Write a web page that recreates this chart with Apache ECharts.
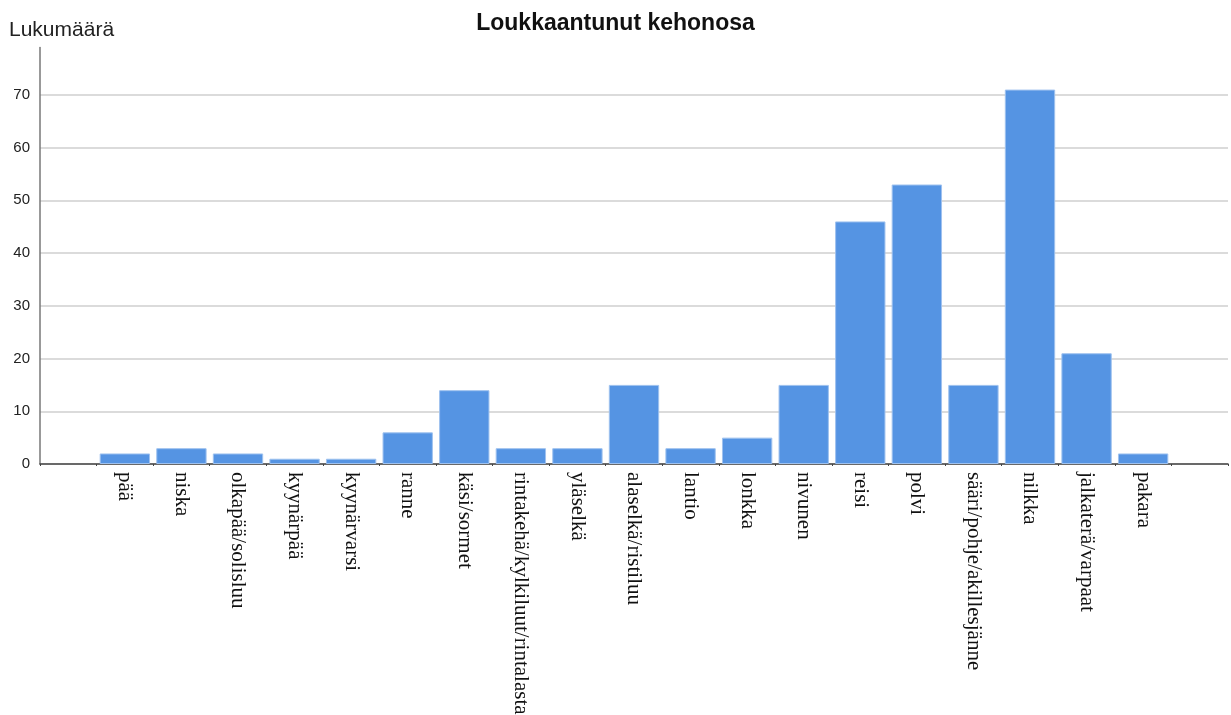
<!DOCTYPE html>
<html><head><meta charset="utf-8">
<script src="https://cdn.jsdelivr.net/npm/echarts@6/dist/echarts.min.js"></script>
<style>html,body{margin:0;padding:0;background:#fff}#c{width:1231px;height:715px}</style>
</head><body><div id="c"></div>
<script>
const categories = ['pää','niska','olkapää/solisluu','kyynärpää','kyynärvarsi','ranne','käsi/sormet','rintakehä/kylkiluut/rintalasta','yläselkä','alaselkä/ristiluu','lantio','lonkka','nivunen','reisi','polvi','sääri/pohje/akillesjänne','nilkka','jalkaterä/varpaat','pakara'];
const counts = [2,3,2,1,1,6,14,3,3,15,3,5,15,46,53,15,71,21,2];
const yTicks = [0,10,20,30,40,50,60,70];

// pad with an empty slot at each end (the reference leaves one band free on both sides)
const axisCats = [''].concat(categories, ['']);
const axisData = [null].concat(counts, [null]);

const chart = echarts.init(document.getElementById('c'));
chart.setOption({
  animation:false,
  title:{text:'Loukkaantunut kehonosa',left:'center',top:7,
    textStyle:{fontFamily:'Liberation Sans, Arial',fontSize:23,fontWeight:'bold',color:'#111'}},
  grid:{left:40,right:3,top:47.4,bottom:251,containLabel:false,outerBoundsMode:'none'},
  xAxis:{type:'category',data:axisCats,
    axisLine:{lineStyle:{color:'#444',width:1.5}},
    axisTick:{show:true,length:2,lineStyle:{color:'#444'}},
    axisLabel:{rotate:-90,interval:0,margin:8,fontFamily:'Liberation Serif, Times New Roman',fontSize:21,color:'#111'}},
  yAxis:{type:'value',min:0,max:79,interval:10,
    name:'Lukumäärä',nameLocation:'end',nameGap:0,
    nameTextStyle:{fontFamily:'Liberation Sans, Arial',fontSize:21,color:'#222',align:'left',padding:[0,0,7,-31]},
    axisLine:{show:true,lineStyle:{color:'#777',width:1.5}},
    axisTick:{show:false},
    splitLine:{show:true,showMaxLine:false,lineStyle:{color:'#cfcfcf',width:1.5}},
    axisLabel:{margin:10,fontFamily:'Liberation Sans, Arial',fontSize:15,color:'#222',
      formatter:v=>yTicks.indexOf(v)>=0?String(v):'',showMaxLabel:false}},
  series:[{type:'bar',data:axisData,barCategoryGap:'11%',
    itemStyle:{color:'#5594e3',borderColor:'#9fc2ef',borderWidth:1}}]
});
</script></body></html>
